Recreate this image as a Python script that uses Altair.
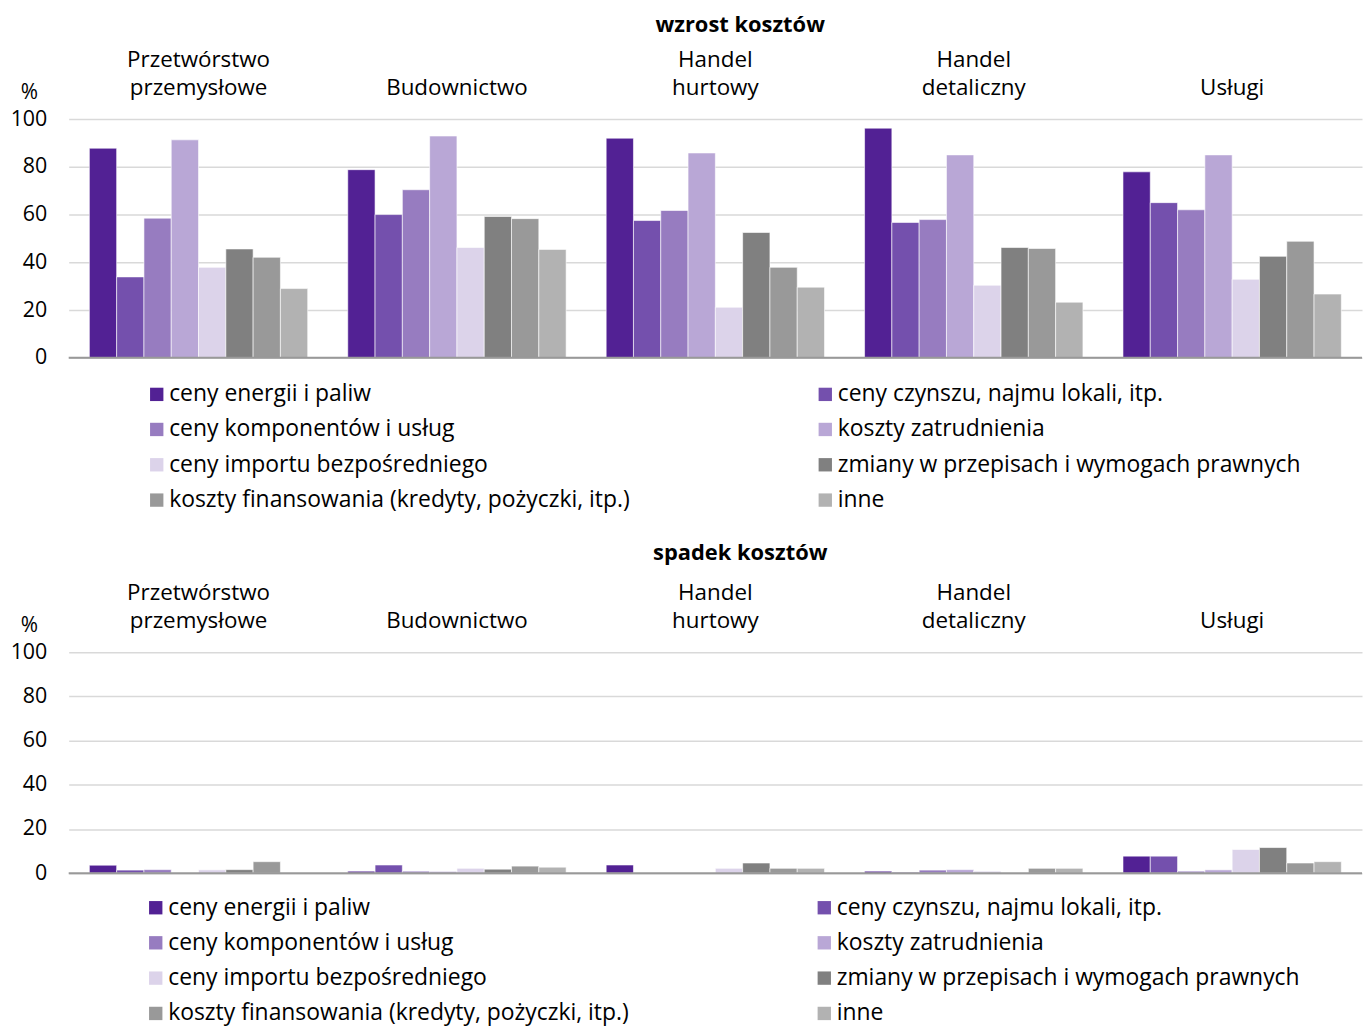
import altair as alt
import pandas as pd

sectors = ["Przetwórstwo przemysłowe", "Budownictwo", "Handel hurtowy", "Handel detaliczny", "Usługi"]
categories = [
    "ceny energii i paliw",
    "ceny czynszu, najmu lokali, itp.",
    "ceny komponentów i usług",
    "koszty zatrudnienia",
    "ceny importu bezpośredniego",
    "zmiany w przepisach i wymogach prawnych",
    "koszty finansowania (kredyty, pożyczki, itp.)",
    "inne",
]
colors = ["#522194", "#7450AD", "#977CC0", "#B9A7D6", "#DCD3EA", "#808080", "#999999", "#B2B2B2"]

# wzrost kosztów (%), order of categories as above
wzrost_przetworstwo = [87.8, 33.9, 58.5, 91.3, 37.9, 45.6, 42.1, 29.0]
wzrost_budownictwo = [78.8, 60.0, 70.4, 92.9, 46.2, 59.2, 58.3, 45.4]
wzrost_hurtowy = [92.0, 57.5, 61.7, 85.8, 21.2, 52.5, 37.9, 29.6]
wzrost_detaliczny = [96.2, 56.7, 57.9, 85.0, 30.4, 46.2, 45.8, 23.3]
wzrost_uslugi = [77.9, 65.0, 62.0, 85.0, 32.9, 42.5, 48.8, 26.7]

# spadek kosztów (%)
spadek_przetworstwo = [3.6, 1.4, 1.6, 0.0, 1.5, 1.6, 5.2, 0.0]
spadek_budownictwo = [0.9, 3.7, 0.9, 0.8, 2.2, 1.8, 3.2, 2.7]
spadek_hurtowy = [3.7, 0.0, 0.0, 0.0, 2.2, 4.6, 2.2, 2.2]
spadek_detaliczny = [0.9, 0.4, 1.4, 1.6, 0.9, 0.0, 2.2, 2.2]
spadek_uslugi = [7.7, 7.7, 0.9, 1.5, 10.7, 11.6, 4.6, 5.2]

y_ticks = [0, 20, 40, 60, 80, 100]

FONT = "Open Sans"


def make_df(series):
    rows = []
    for s, vals in zip(sectors, series):
        for c, v in zip(categories, vals):
            rows.append({"sektor": s, "kategoria": c, "wartosc": v})
    return pd.DataFrame(rows)


df_w = make_df([wzrost_przetworstwo, wzrost_budownictwo, wzrost_hurtowy, wzrost_detaliczny, wzrost_uslugi])
df_s = make_df([spadek_przetworstwo, spadek_budownictwo, spadek_hurtowy, spadek_detaliczny, spadek_uslugi])

LABEL_EXPR = "length(split(datum.label, ' ')) > 1 ? split(datum.label, ' ') : ['', datum.label]"


def panel(df, title, width, height, legend_y, legend_x, title_offset, title_dx, label_pad):
    bars = alt.Chart(df).mark_bar(stroke="white", strokeWidth=0.6).encode(
        x=alt.X(
            "sektor:N",
            sort=sectors,
            scale=alt.Scale(paddingInner=0.155, paddingOuter=0.08),
            axis=alt.Axis(
                orient="top", title=None, labelAngle=0, ticks=False, domain=False,
                labelExpr=LABEL_EXPR, labelFontSize=22.5, labelLineHeight=28,
                labelPadding=label_pad, labelColor="black", labelFont=FONT,
            ),
        ),
        xOffset=alt.XOffset("kategoria:N", sort=categories, scale=alt.Scale(paddingInner=0, paddingOuter=0)),
        y=alt.Y(
            "wartosc:Q",
            scale=alt.Scale(domain=[0, 100]),
            axis=alt.Axis(
                values=y_ticks, title="%", titleAngle=0, titleX=-40, titleY=-27,
                titleAlign="center", titleBaseline="middle", titleFontSize=21,
                titleFontWeight="normal", titleFont=FONT, titleColor="black",
                labelFontSize=21.5, labelFont=FONT, labelColor="black", labelPadding=22,
                ticks=False, domain=False, gridColor="#d9d9d9", gridWidth=1.5,
            ),
        ),
        color=alt.Color(
            "kategoria:N",
            sort=categories,
            scale=alt.Scale(domain=categories, range=colors),
            legend=alt.Legend(
                title=None, orient="none", legendX=legend_x, legendY=legend_y, columns=2,
                direction="horizontal", columnPadding=184, rowPadding=11.5,
                symbolType="square", symbolSize=180,
                symbolStrokeWidth=0, labelFontSize=23, labelFont=FONT, labelColor="black",
                labelLimit=1000, labelOffset=1,
            ),
        ),
    )
    base = alt.Chart(pd.DataFrame({"zero": [0]})).mark_rule(color="#999999", strokeWidth=2).encode(
        y=alt.Y("zero:Q")
    )
    return alt.layer(bars, base).properties(
        width=width,
        height=height,
        title=alt.TitleParams(title, fontSize=22, fontWeight="bold", font=FONT, anchor="middle",
                              dx=title_dx, offset=title_offset, color="black"),
    )


top = panel(df_w, "wzrost kosztów", 1300, 240, 265, 77, 12, 25, 48)
bottom = panel(df_s, "spadek kosztów", 1300, 222, 245, 76, 17, 25, 48)

chart = alt.vconcat(top, bottom, spacing=30).resolve_scale(color="independent").resolve_legend(
    color="independent"
).properties(padding={"left": 2, "top": 3, "right": 0, "bottom": 0}).configure_view(stroke=None)

chart.save("out.html", embed_options={"renderer": "svg", "actions": False})
